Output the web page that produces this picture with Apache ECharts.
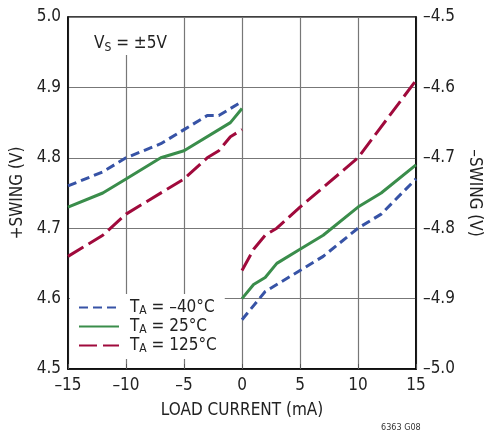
<!DOCTYPE html>
<html><head><meta charset="utf-8">
<script src="https://cdn.jsdelivr.net/npm/echarts@6/dist/echarts.min.js"></script>
<style>html,body{margin:0;padding:0;background:#fff}#c{width:486px;height:434px}</style>
</head><body><div id="c"></div>
<script>
// Positive swing (left axis), load current -15..0 mA
const blueNegX = [-15,-12,-10,-7,-5,-3,-2,0];
const blueNegY = [4.76,4.78,4.80,4.82,4.84,4.86,4.86,4.88];
const greenNegX = [-15,-12,-10,-7,-5,-1,0];
const greenNegY = [4.73,4.75,4.77,4.80,4.81,4.85,4.87];
const redNegX = [-15,-12,-10,-5,-3,-2,-1,0];
const redNegY = [4.66,4.69,4.72,4.77,4.80,4.81,4.83,4.84];
// Negative swing (right axis), load current 0..15 mA
const bluePosX = [0,2,5,7,10,12,15];
const bluePosY = [-4.93,-4.89,-4.86,-4.84,-4.80,-4.78,-4.73];
const greenPosX = [0,1,2,3,5,7,10,12,15];
const greenPosY = [-4.90,-4.88,-4.87,-4.85,-4.83,-4.81,-4.77,-4.75,-4.71];
const redPosX = [0,1,2,3,5,10,15];
const redPosY = [-4.86,-4.83,-4.81,-4.80,-4.77,-4.70,-4.59];
const tempNames = ['–40°C','25°C','125°C'];

const FONT = '"DejaVu Sans Condensed","Liberation Sans Narrow",sans-serif';
const FS = 17;
const BLUE = '#3753a6', GREEN = '#3a8d4b', RED = '#a00a3c';
const zip = (xs, ys) => xs.map((x, i) => [x, ys[i]]);

function line(name, color, dash, xs, ys, axis) {
  return {
    type: 'line', name, yAxisIndex: axis, data: zip(xs, ys),
    showSymbol: false, symbol: 'none', animation: false,
    lineStyle: { color, width: 3, type: dash, cap: 'butt' },
    itemStyle: { color }
  };
}

const chart = echarts.init(document.getElementById('c'));
chart.setOption({
  animation: false,
  textStyle: { fontFamily: FONT },
  grid: { left: 68, right: 70, top: 17, bottom: 65, show: true, borderColor: '#000', borderWidth: 1.5,
          containLabel: false, outerBoundsMode: 'none' },
  xAxis: {
    type: 'value', min: -15, max: 15, interval: 5,
    name: 'LOAD CURRENT (mA)', nameLocation: 'middle', nameGap: 33,
    nameTextStyle: { fontSize: FS, color: '#222', fontFamily: FONT },
    axisLine: { show: true, onZero: false, lineStyle: { color: '#000', width: 1.5 } },
    axisTick: { show: true, inside: true, length: 5, lineStyle: { color: '#555' } },
    axisLabel: { fontSize: FS, color: '#222', margin: 8, fontFamily: FONT,
      formatter: v => (v < 0 ? '–' + (-v) : '' + v) },
    splitLine: { show: true, lineStyle: { color: '#777', width: 1.2 } }
  },
  yAxis: [{
    type: 'value', min: 4.5, max: 5.0, interval: 0.1, position: 'left',
    name: '+SWING (V)', nameLocation: 'middle', nameGap: 42, nameRotate: 90,
    nameTextStyle: { fontSize: FS, color: '#222', fontFamily: FONT },
    axisLine: { show: true, onZero: false, lineStyle: { color: '#000', width: 1.5 } },
    axisTick: { show: false },
    axisLabel: { fontSize: FS, color: '#222', margin: 7, fontFamily: FONT, formatter: v => v.toFixed(1) },
    splitLine: { show: true, lineStyle: { color: '#777', width: 1.2 } }
  }, {
    type: 'value', min: -5.0, max: -4.5, interval: 0.1, position: 'right',
    name: '–SWING (V)', nameLocation: 'middle', nameGap: 46, nameRotate: -90,
    nameTextStyle: { fontSize: FS, color: '#222', fontFamily: FONT },
    axisLine: { show: true, onZero: false, lineStyle: { color: '#000', width: 1.5 } },
    axisTick: { show: false },
    axisLabel: { fontSize: FS, color: '#222', margin: 7, fontFamily: FONT,
      formatter: v => '–' + Math.abs(v).toFixed(1) },
    splitLine: { show: false }
  }],
  legend: {
    orient: 'vertical', left: 70, top: 294, itemWidth: 40, itemHeight: 12, itemGap: 1,
    backgroundColor: '#fff', padding: [5, 8, 4, 8],
    itemStyle: { opacity: 0 },
    data: tempNames,
    formatter: n => '{g|}{t|T}{s|A}{t| = ' + n + '}',
    textStyle: { color: '#222', fontFamily: FONT,
      rich: { g: { width: 6 },
              t: { fontSize: FS, fontFamily: FONT, color: '#222', lineHeight: 19 },
              s: { fontSize: 12, fontFamily: FONT, color: '#222', lineHeight: 19, verticalAlign: 'bottom', padding: [6, 0, 0, 0] } } }
  },
  graphic: [
    { type: 'rect', z: 50, shape: { x: 80, y: 18, width: 90, height: 37 }, style: { fill: '#fff' } },
    { type: 'text', z: 51, left: 94, top: 35,
      style: { text: '{t|V}{s|S}{t| = ±5V}', fill: '#222',
        rich: { t: { fontSize: FS, fontFamily: FONT, fill: '#222' },
                s: { fontSize: 12, fontFamily: FONT, fill: '#222', padding: [8, 0, 0, 0] } } } },
    { type: 'text', z: 51, left: 381, top: 423,
      style: { text: '6363 G08', fontSize: 9, fontFamily: FONT, fill: '#333' } }
  ],
  series: [
    line(tempNames[0], BLUE, [9, 5], blueNegX, blueNegY, 0),
    line(tempNames[1], GREEN, 'solid', greenNegX, greenNegY, 0),
    line(tempNames[2], RED, [18, 6], redNegX, redNegY, 0),
    line(tempNames[0], BLUE, [9, 5], bluePosX, bluePosY, 1),
    line(tempNames[1], GREEN, 'solid', greenPosX, greenPosY, 1),
    line(tempNames[2], RED, [18, 6], redPosX, redPosY, 1)
  ]
});
</script></body></html>
